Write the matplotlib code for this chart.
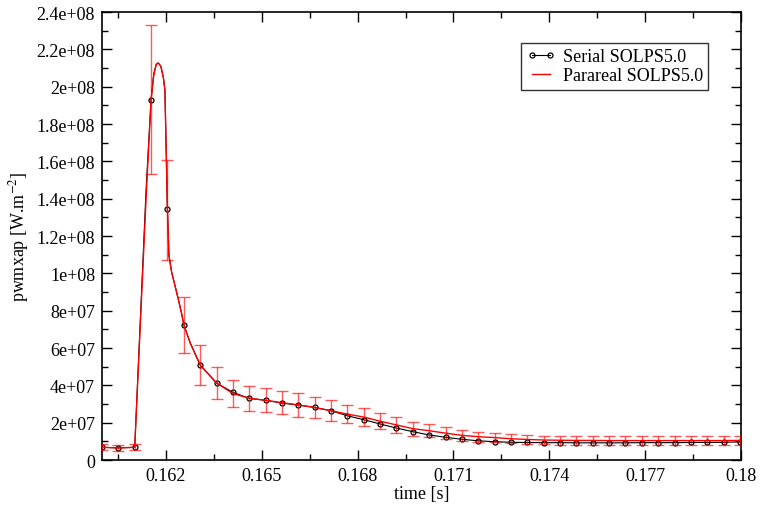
import numpy as np
import matplotlib
matplotlib.use("Agg")
import matplotlib.pyplot as plt
from matplotlib.ticker import MultipleLocator, FuncFormatter
from matplotlib.lines import Line2D

plt.rcParams['font.family'] = ['Liberation Serif', 'DejaVu Serif']
plt.rcParams['mathtext.fontset'] = 'stix'

# time of the saved steps [s]
t_pts = [0.16, 0.160512, 0.161024, 0.161536, 0.162048, 0.16256, 0.163072, 0.163584,
         0.164096, 0.164608, 0.16512, 0.165632, 0.166144, 0.166656, 0.167168, 0.16768,
         0.168192, 0.168704, 0.169216, 0.169728, 0.17024, 0.170752, 0.171264, 0.171776,
         0.172288, 0.1728, 0.173312, 0.173824, 0.174336, 0.174848, 0.17536, 0.175872,
         0.176384, 0.176896, 0.177408, 0.17792, 0.178432, 0.178944, 0.179456, 0.179968]

serial_pts = [6.8e6, 6.5e6, 6.8e6, 1.93e8, 1.344e8, 7.25e7, 5.09e7, 4.12e7,
              3.63e7, 3.30e7, 3.20e7, 3.05e7, 2.95e7, 2.82e7, 2.64e7, 2.37e7,
              2.16e7, 1.93e7, 1.71e7, 1.52e7, 1.34e7, 1.22e7, 1.11e7, 1.03e7,
              9.8e6, 9.5e6, 9.4e6, 9.3e6, 9.3e6, 9.2e6, 9.2e6, 9.2e6,
              9.2e6, 9.3e6, 9.3e6, 9.3e6, 9.4e6, 9.4e6, 9.5e6, 9.7e6]

parareal_pts = [6.8e6, 6.5e6, 6.8e6, 1.93e8, 1.34e8, 7.25e7, 5.10e7, 4.13e7,
                3.56e7, 3.31e7, 3.20e7, 3.07e7, 2.95e7, 2.81e7, 2.64e7, 2.46e7,
                2.30e7, 2.08e7, 1.88e7, 1.68e7, 1.57e7, 1.44e7, 1.32e7, 1.25e7,
                1.20e7, 1.14e7, 1.10e7, 1.07e7, 1.06e7, 1.05e7, 1.05e7, 1.04e7,
                1.04e7, 1.04e7, 1.04e7, 1.04e7, 1.04e7, 1.04e7, 1.04e7, 1.05e7]

parareal_err = [1.7e6, 1.7e6, 1.7e6, 4.0e7, 2.68e7, 1.5e7, 1.07e7, 8.7e6,
                7.4e6, 6.7e6, 6.5e6, 6.3e6, 6.2e6, 5.8e6, 5.6e6, 4.9e6,
                4.8e6, 4.2e6, 4.1e6, 3.8e6, 3.6e6, 3.2e6, 2.9e6, 2.7e6,
                2.6e6, 2.5e6, 2.4e6, 2.3e6, 2.3e6, 2.3e6, 2.2e6, 2.2e6,
                2.2e6, 2.2e6, 2.2e6, 2.2e6, 2.2e6, 2.2e6, 2.2e6, 2.2e6]

# extra output between the saved steps around the ELM peak
t_peak = [0.16138, 0.16162, 0.16170, 0.16176, 0.16184, 0.16192, 0.16197,
          0.162097, 0.162181, 0.162285, 0.162388, 0.162495, 0.162754]
serial_peak = [1.45e8, 2.07e8, 2.12e8, 2.127e8, 2.11e8, 2.05e8, 1.98e8,
               1.094e8, 1.005e8, 9.34e7, 8.62e7, 7.82e7, 6.3e7]
parareal_peak = [1.40e8, 2.06e8, 2.12e8, 2.127e8, 2.11e8, 2.05e8, 1.98e8,
                 1.094e8, 1.005e8, 9.34e7, 8.62e7, 7.82e7, 6.3e7]

t_line = np.concatenate([t_pts, t_peak])
order = np.argsort(t_line)
t_line = t_line[order]
serial_line = np.concatenate([serial_pts, serial_peak])[order]
parareal_line = np.concatenate([parareal_pts, parareal_peak])[order]

fig = plt.figure(figsize=(7.6, 5.06), dpi=100)
ax = fig.add_axes([0.1342, 0.0889, 0.8408, 0.8854])

ax.plot(t_line, serial_line, color='black', lw=0.8, zorder=2)
ax.plot(t_pts, serial_pts, ls='none', marker='o', ms=3.6, mfc='none',
        mec='black', mew=0.9, zorder=3)
ax.plot(t_line, parareal_line, color='red', lw=1.0, zorder=4)
ax.errorbar(t_pts, parareal_pts, yerr=parareal_err, fmt='none', ecolor='red',
            elinewidth=1.0, capsize=4.3, capthick=1.0, alpha=0.65, zorder=5)

ax.set_xlim(0.16, 0.18)
ax.set_ylim(0, 2.4e8)
ax.xaxis.set_major_locator(MultipleLocator(0.003))
ax.xaxis.set_minor_locator(MultipleLocator(0.0015))
ax.yaxis.set_major_locator(MultipleLocator(2e7))
ax.yaxis.set_minor_locator(MultipleLocator(1e7))
ax.xaxis.set_major_formatter(FuncFormatter(lambda v, p: '%g' % round(v, 4)))
ax.yaxis.set_major_formatter(FuncFormatter(lambda v, p: '%g' % v))

ax.tick_params(which='both', direction='in', top=True, right=True,
               labelsize=13, width=1.0)
ax.tick_params(which='major', length=7.5, pad=5)
ax.tick_params(which='minor', length=4)
for s in ax.spines.values():
    s.set_linewidth(1.2)

ax.set_xlabel('time [s]', fontsize=13, labelpad=1)
ax.set_ylabel('pwmxap [W.m$^{-2}$]', fontsize=13, labelpad=4)

handles = [Line2D([], [], color='black', lw=0.8, marker='o', ms=3.6,
                  mfc='none', mec='black', mew=0.9),
           Line2D([], [], color='red', lw=1.0)]
leg = ax.legend(handles, ['Serial SOLPS5.0', 'Parareal SOLPS5.0'],
                loc='upper right', bbox_to_anchor=(0.949, 0.931),
                borderaxespad=0, fontsize=13, frameon=True, fancybox=False,
                numpoints=2, handlelength=1.6, handletextpad=0.4,
                labelspacing=0.1, borderpad=0.3)
leg.get_frame().set_edgecolor('black')
leg.get_frame().set_linewidth(1.0)

fig.savefig('out.png', dpi=100)
